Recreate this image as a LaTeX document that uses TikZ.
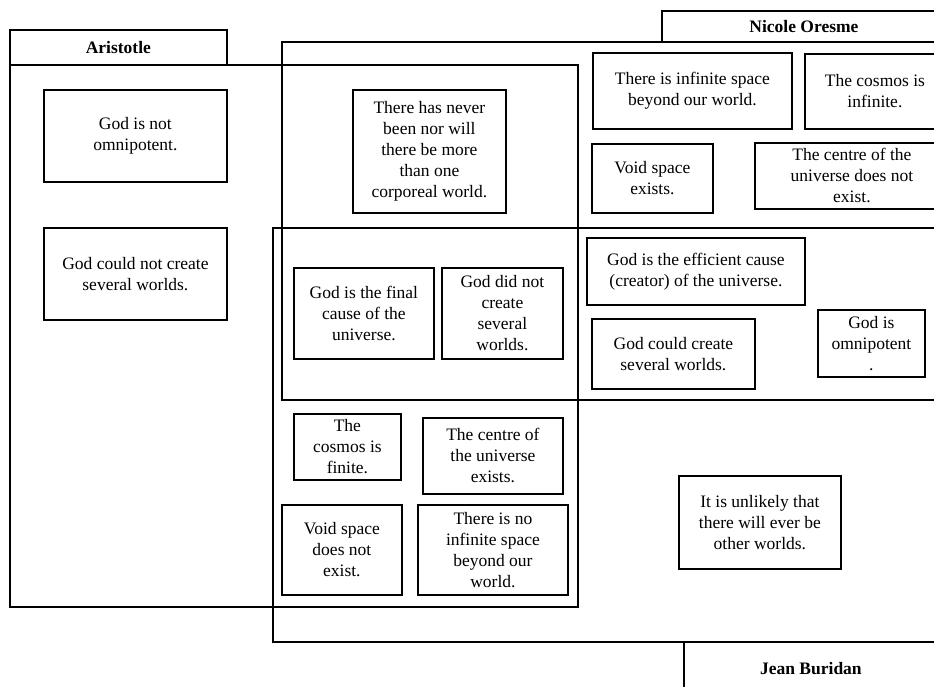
\documentclass[tikz,border=0pt]{standalone}
\usepackage{fontspec}
\setmainfont{Liberation Serif}
\begin{document}
\begin{tikzpicture}[x=1pt,y=-1pt,
  frame/.style={draw, line width=1.8pt, anchor=north west, inner sep=0pt},
  box/.style={frame, align=center, font=\fontsize{17.5pt}{21pt}\selectfont},
  lbl/.style={frame, align=center, font=\bfseries\fontsize{17.5pt}{21pt}\selectfont},
]
\useasboundingbox (0,0) rectangle (934,687);
\clip (0,0) rectangle (934,687);
% regions
\node[frame, minimum width=568pt, minimum height=542pt] (aristR) at (9,64) {};
\node[frame, minimum width=664pt, minimum height=358pt] (oresR) at (281,41) {};
\node[frame, minimum width=673pt, minimum height=414pt] (burR) at (272,227) {};
% labels
\node[lbl, minimum width=217pt, minimum height=35pt] (aristL) at (9,29) {Aristotle};
\node[lbl, minimum width=284pt, minimum height=31pt] (oresL) at (661,10) {Nicole Oresme};
\node[lbl, minimum width=254pt, minimum height=54pt] (burL) at (683,641) {Jean Buridan};
% statements
\node[box, minimum width=183pt, minimum height=92pt] (godnot) at (43,89) {God is not\\omnipotent.};
\node[box, minimum width=183pt, minimum height=92pt] (couldnot) at (43,227) {God could not create\\several worlds.};
\node[box, minimum width=153pt, minimum height=123pt] (never) at (352,89) {There has never\\been nor will\\there be more\\than one\\corporeal world.};
\node[box, minimum width=140pt, minimum height=91pt] (final) at (293,267) {God is the final\\cause of the\\universe.};
\node[box, minimum width=121pt, minimum height=91pt] (didnot) at (441,267) {God did not\\create\\several\\worlds.};
\node[box, minimum width=107pt, minimum height=66pt] (finite) at (293,413) {The\\cosmos is\\finite.};
\node[box, minimum width=140pt, minimum height=76pt] (centreex) at (422,417) {The centre of\\the universe\\exists.};
\node[box, minimum width=120pt, minimum height=90pt] (voidnot) at (281,504) {Void space\\does not\\exist.};
\node[box, minimum width=150pt, minimum height=90pt] (noinf) at (417,504) {There is no\\infinite space\\beyond our\\world.};
\node[box, minimum width=199pt, minimum height=76pt] (infsp) at (592,52) {There is infinite space\\beyond our world.};
\node[box, minimum width=140pt, minimum height=75pt] (cosinf) at (804,53) {The cosmos is\\infinite.};
\node[box, minimum width=121pt, minimum height=69pt] (voidex) at (591,143) {Void space\\exists.};
\node[box, minimum width=194pt, minimum height=66pt] (centrenot) at (754,142) {The centre of the\\universe does not\\exist.};
\node[box, minimum width=218pt, minimum height=67pt] (efficient) at (586,237) {God is the efficient cause\\(creator) of the universe.};
\node[box, minimum width=163pt, minimum height=70pt] (could) at (591,318) {God could create\\several worlds.};
\node[box, minimum width=107pt, minimum height=67pt] (omni) at (817,309) {God is\\omnipotent\\.};
\node[box, minimum width=162pt, minimum height=93pt] (unlikely) at (678,475) {It is unlikely that\\there will ever be\\other worlds.};
\end{tikzpicture}
\end{document}
